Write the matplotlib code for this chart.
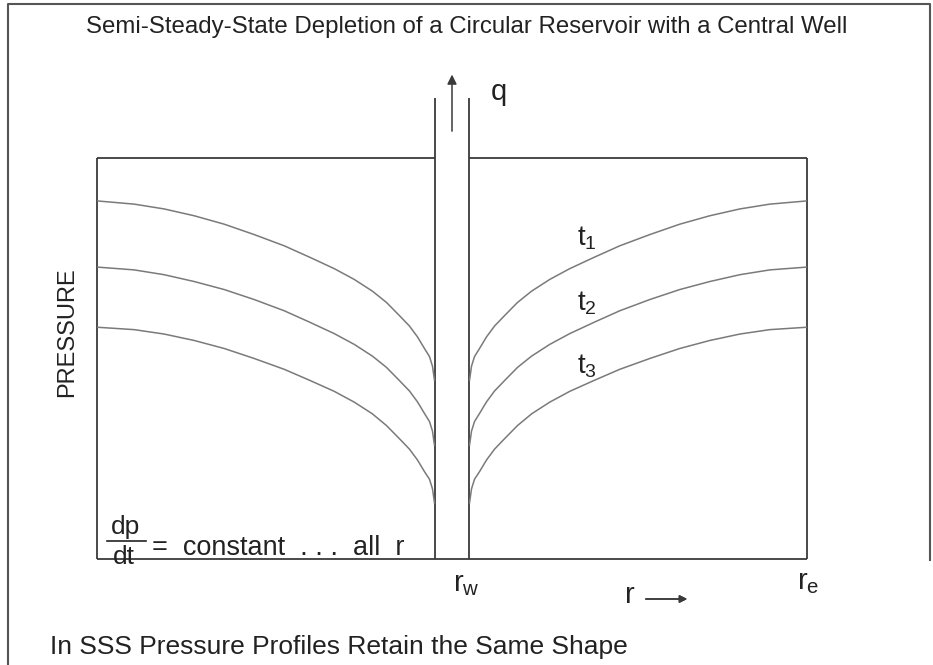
import matplotlib.pyplot as plt
from matplotlib.lines import Line2D

plt.rcParams['font.family'] = ['Liberation Sans', 'DejaVu Sans']
plt.rcParams['mathtext.fontset'] = 'custom'
plt.rcParams['mathtext.rm'] = 'Liberation Sans'

# distance from well centre (r_e = 1) and normalised pressure
r_w = 0.049
r_e = 1.0
r = [0.0494, 0.0550, 0.0635, 0.0776, 0.0973, 0.1199, 0.1481, 0.1848, 0.2243, 0.2750,
     0.3315, 0.4020, 0.4725, 0.5571, 0.6418, 0.7264, 0.8110, 0.8956, 1.0]
p_t1 = [0.446, 0.481, 0.505, 0.525, 0.554, 0.581, 0.607, 0.640, 0.668, 0.697,
        0.724, 0.753, 0.781, 0.809, 0.835, 0.856, 0.873, 0.885, 0.893]
p_t2 = [0.284, 0.319, 0.343, 0.363, 0.392, 0.419, 0.445, 0.478, 0.506, 0.535,
        0.562, 0.591, 0.619, 0.647, 0.672, 0.692, 0.709, 0.721, 0.728]
p_t3 = [0.140, 0.175, 0.199, 0.218, 0.247, 0.274, 0.300, 0.333, 0.362, 0.391,
        0.418, 0.446, 0.473, 0.500, 0.525, 0.545, 0.561, 0.572, 0.578]
curves = [p_t1, p_t2, p_t3]
curve_labels = ['t_1', 't_2', 't_3']

well_top = 1.15
arrow_y = (1.06, 1.215)

W, H = 933, 665
fig = plt.figure(figsize=(W / 100, H / 100), dpi=100)
ax = fig.add_axes([97 / W, 1 - 559 / H, 710 / W, 401 / H])
ax.set_xlim(-r_e, r_e)
ax.set_ylim(0, 1)
ax.axis('off')

box = '#3a3a3a'
curve_col = '#7a7a7a'
txt = '#222222'

# reservoir box, top edge broken by the well
for xs, ys in [([-r_e, -r_e], [0, 1]), ([r_e, r_e], [0, 1]), ([-r_e, r_e], [0, 0]),
               ([-r_e, -r_w], [1, 1]), ([r_w, r_e], [1, 1]),
               ([-r_w, -r_w], [0, well_top]), ([r_w, r_w], [0, well_top])]:
    ax.plot(xs, ys, color=box, lw=1.3, clip_on=False, solid_capstyle='butt')

# pressure profiles, mirrored about the well
for p in curves:
    ax.plot(r, p, color=curve_col, lw=1.1)
    ax.plot([-v for v in r], p, color=curve_col, lw=1.1)

for lab, (x, y) in zip(curve_labels, [(0.38, 0.80), (0.38, 0.638), (0.38, 0.481)]):
    ax.text(x, y, r'$\mathregular{%s}$' % lab, fontsize=20, color=txt, ha='center', va='center')

# flow arrow up the well
ax.annotate('', xy=(0, arrow_y[1]), xytext=(0, arrow_y[0]), annotation_clip=False,
            arrowprops=dict(arrowstyle='-|>', color=box, lw=1.1, mutation_scale=14))
ax.text(0.11, 1.165, 'q', fontsize=21, color=txt, ha='left', va='center')

# labels outside the box
def fx(px):
    return px / W

def fy(py):
    return 1 - py / H

fig.text(fx(467), fy(27), 'Semi-Steady-State Depletion of a Circular Reservoir with a Central Well',
         fontsize=17.3, color=txt, ha='center', va='center')
fig.text(fx(67), fy(332), 'PRESSURE', fontsize=17, color=txt, rotation=90,
         ha='center', va='center')
fig.text(fx(466), fy(584), r'$\mathregular{r_w}$', fontsize=21, color=txt, ha='center', va='center')
fig.text(fx(808), fy(582), r'$\mathregular{r_e}$', fontsize=21, color=txt, ha='center', va='center')
fig.text(fx(630), fy(595), 'r', fontsize=21, color=txt, ha='center', va='center')
fig.add_artist(plt.annotate('', xy=(fx(690), fy(599)), xytext=(fx(643), fy(599)),
                            xycoords='figure fraction', textcoords='figure fraction',
                            arrowprops=dict(arrowstyle='-|>', color=box, lw=1.1, mutation_scale=11)))

fig.text(fx(125), fy(527), 'dp', fontsize=19, color=txt, ha='center', va='center')
fig.add_artist(Line2D([fx(107), fx(146)], [fy(541), fy(541)], color=txt, lw=1.2))
fig.text(fx(124), fy(557), 'dt', fontsize=19, color=txt, ha='center', va='center')
fig.text(fx(152), fy(548), '=  constant  . . .  all  r', fontsize=19.5, color=txt,
         ha='left', va='center')

fig.text(fx(50), fy(647), 'In SSS Pressure Profiles Retain the Same Shape', fontsize=19,
         color=txt, ha='left', va='center')

# outer frame
fig.add_artist(Line2D([fx(8), fx(8), fx(930), fx(930)], [0, fy(4), fy(4), fy(560)],
                      color='#555555', lw=1.5))

fig.savefig('out.png', dpi=100)
